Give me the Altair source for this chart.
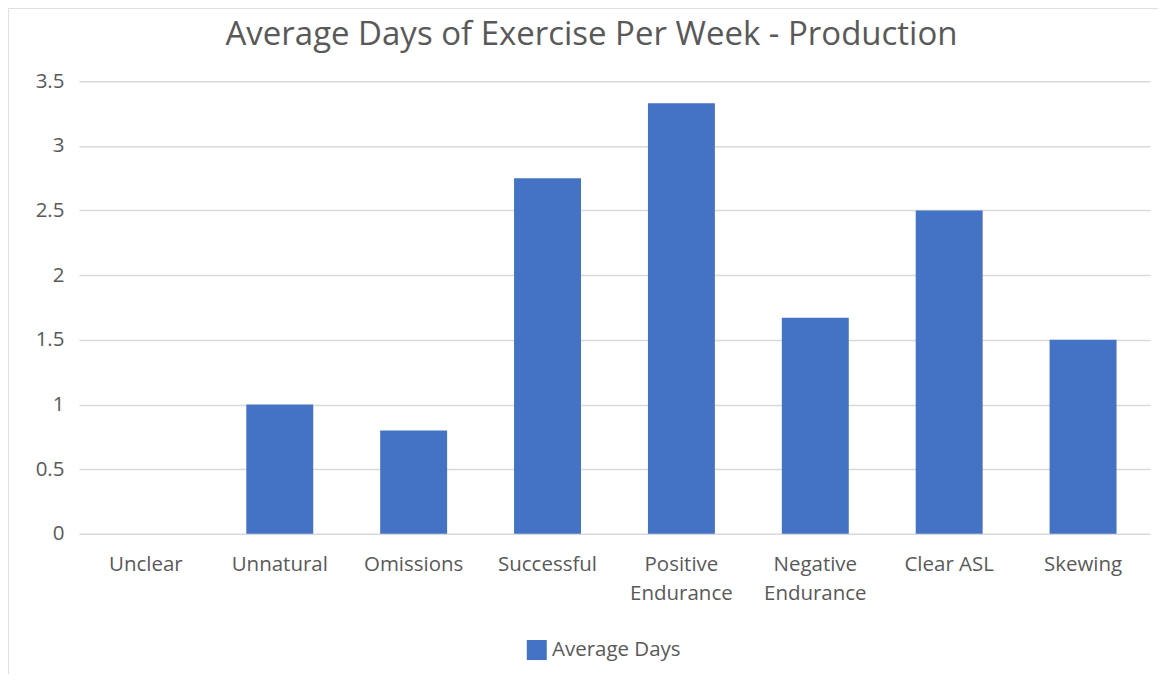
import altair as alt
import pandas as pd

categories = ["Unclear", "Unnatural", "Omissions", "Successful",
              "Positive Endurance", "Negative Endurance", "Clear ASL", "Skewing"]
values = [0, 1.0, 0.8, 2.75, 3.33, 1.67, 2.5, 1.5]
series_name = "Average Days"
y_ticks = [0, 0.5, 1, 1.5, 2, 2.5, 3, 3.5]

df = pd.DataFrame({"Category": categories, "Value": values, "Series": [series_name] * len(categories)})

FONT = "Open Sans"
GREY = "#595959"

bars = alt.Chart(df).mark_bar(color="#4472C4").encode(
    x=alt.X("Category:N", sort=categories,
            scale=alt.Scale(paddingInner=0.5, paddingOuter=0.25),
            axis=alt.Axis(title=None, labelAngle=0, domain=False, ticks=False,
                          labelFontSize=20.5, labelColor=GREY, labelFont=FONT,
                          labelPadding=21, labelLineHeight=29,
                          labelBaseline="top",
                          labelExpr="datum.label == 'Clear ASL' ? datum.label : split(datum.label, ' ')")),
    y=alt.Y("Value:Q", scale=alt.Scale(domain=[0, 3.5], nice=False),
            axis=alt.Axis(title=None, values=y_ticks, domain=False, ticks=False, format=".1~f",
                          labelFontSize=20.5, labelColor=GREY, labelFont=FONT,
                          labelPadding=15, gridColor="#d9d9d9", gridWidth=1.5)),
    color=alt.Color("Series:N", scale=alt.Scale(range=["#4472C4"]),
                    legend=alt.Legend(title=None, orient="none", legendX=448, legendY=559,
                                      symbolType="square", symbolSize=400,
                                      symbolStrokeWidth=0,
                                      labelFontSize=20.5, labelColor=GREY, labelFont=FONT,
                                      labelOffset=5)),
)

border_left = alt.Chart(df).mark_rule(color="#e0e0e0", strokeWidth=1.5).encode(
    x=alt.value(-71), y=alt.value(-73), y2=alt.value(600)
)
border_top = alt.Chart(df).mark_rule(color="#e0e0e0", strokeWidth=1.5).encode(
    x=alt.value(-71), x2=alt.value(1080), y=alt.value(-73)
)

chart = alt.layer(border_left, border_top, bars).properties(
    width=1072, height=453,
    padding={"left": 71, "top": 73, "right": 10, "bottom": 140},
    autosize=alt.AutoSizeParams(type="none"),
    title=alt.Title("Average Days of Exercise Per Week - Production",
                    fontSize=33, font=FONT, color=GREY, fontWeight="normal",
                    anchor="middle", offset=-44, dx=-23),
).configure_view(stroke=None)

chart.save("out.html", embed_options={"renderer": "svg", "actions": False})
